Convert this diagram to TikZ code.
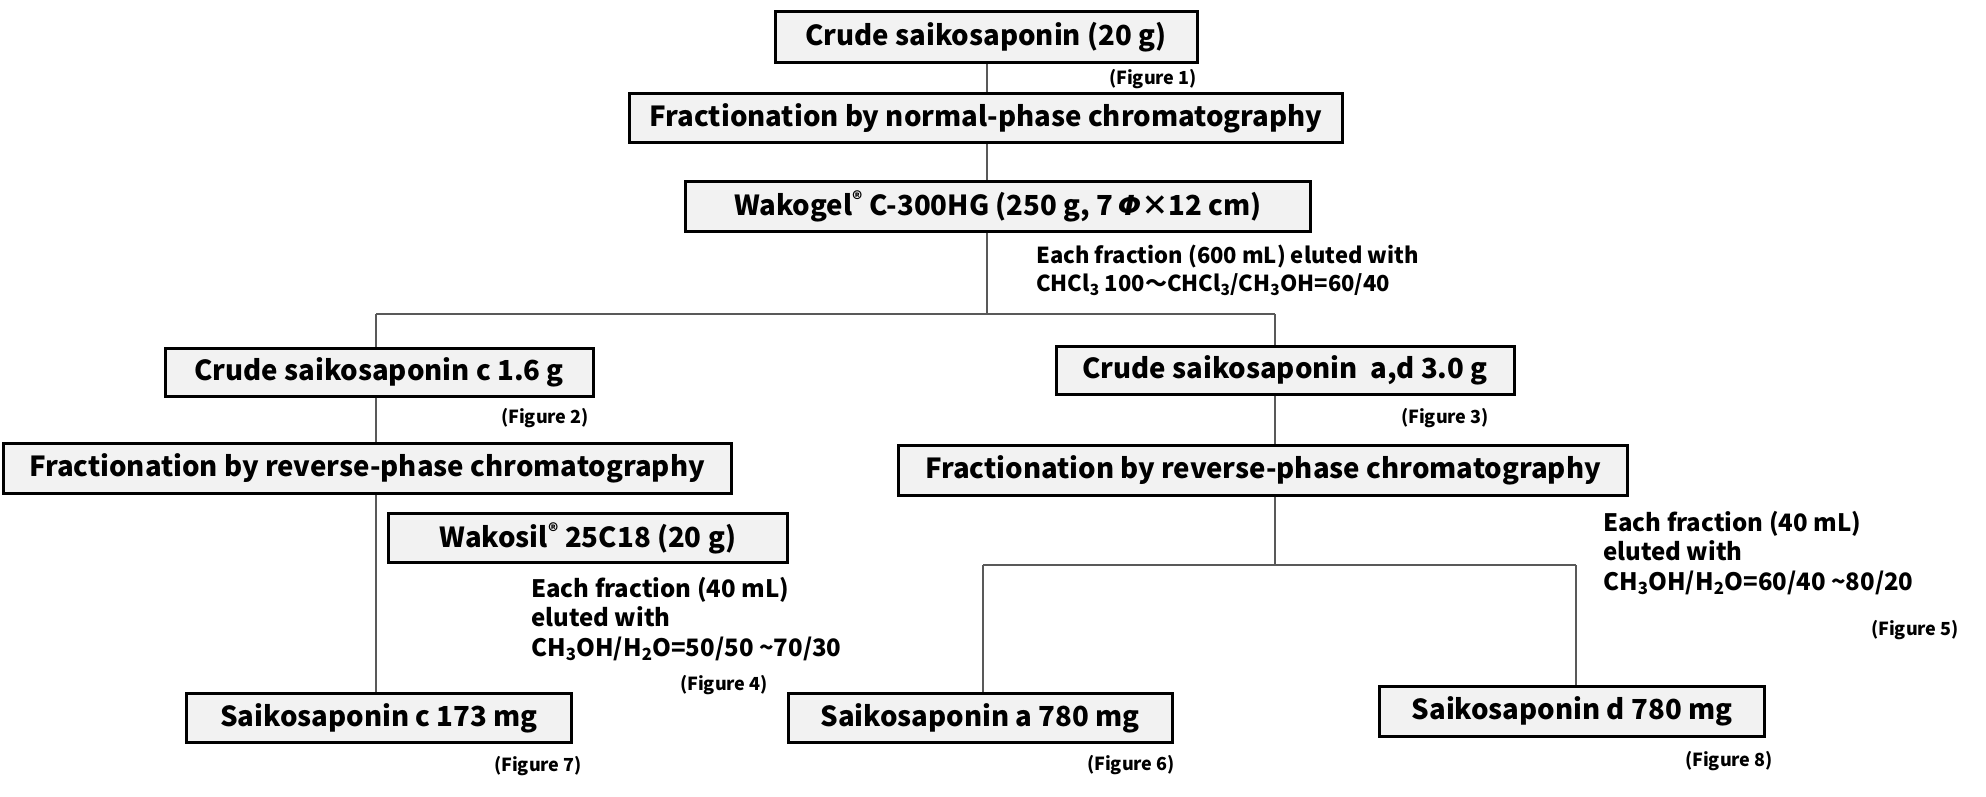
\documentclass[tikz,border=0pt]{standalone}
\usepackage{fontspec}
\setmainfont{Noto Sans CJK JP}
\newfontfamily\phifont{DejaVu Sans}
\definecolor{boxgray}{HTML}{F2F2F2}
\definecolor{linegray}{HTML}{595959}
\newcommand\boxfont{\fontsize{27.6}{32}\selectfont\bfseries}
\newcommand\notefont{\fontsize{24}{29.5}\selectfont\bfseries}
\newcommand\topnotefont{\fontsize{22}{28}\selectfont\bfseries}
\newcommand\figfont{\fontsize{18}{20}\selectfont\bfseries}
\begin{document}
\begin{tikzpicture}[x=1pt,y=-1pt,
  stepbox/.style={draw=black, line width=3pt, fill=boxgray, inner sep=0pt,
    minimum height=49pt, font=\boxfont, text=black},
  note/.style={anchor=west, align=left, inner sep=0pt, font=\notefont},
  figlab/.style={inner sep=0pt, font=\figfont},
  conn/.style={draw=linegray, line width=2pt}]
\useasboundingbox (0,0) rectangle (1986,796);
% boxes
\node[stepbox, minimum width=422pt, minimum height=51pt] (b1) at (986,37) {Crude saikosaponin (20 g)};
\node[stepbox, minimum width=713pt] (b2) at (986,118) {Fractionation by normal-phase chromatography};
\node[stepbox, minimum width=625pt, minimum height=50pt] (b3) at (998,206) {Wakogel\textsuperscript{®} C-300HG (250 g, 7\,{\phifont\bfseries\itshape Φ}×12 cm)};
\node[stepbox, minimum width=428pt, minimum height=48pt] (b4) at (379,372) {Crude saikosaponin c 1.6 g};
\node[stepbox, minimum width=458pt, minimum height=48pt] (b5) at (1285,370) {Crude saikosaponin\ \ a,d 3.0 g};
\node[stepbox, minimum width=728pt, minimum height=50pt] (b6) at (367,468) {Fractionation by reverse-phase chromatography};
\node[stepbox, minimum width=729pt, minimum height=50pt] (b7) at (1263,470) {Fractionation by reverse-phase chromatography};
\node[stepbox, minimum width=399pt] (b8) at (588,538) {Wakosil\textsuperscript{®} 25C18 (20 g)};
\node[stepbox, minimum width=385pt] (b9) at (379,718) {Saikosaponin c 173 mg};
\node[stepbox, minimum width=384pt] (b10) at (980,718) {Saikosaponin a 780 mg};
\node[stepbox, minimum width=385pt, minimum height=50pt] (b11) at (1572,711) {Saikosaponin d 780 mg};
% notes
\node[note, font=\topnotefont] (n1) at (1036,270) {Each fraction (600 mL) eluted with\\CHCl\textsubscript{3} 100～CHCl\textsubscript{3}/CH\textsubscript{3}OH=60/40};
\node[note] (nl) at (531,619) {Each fraction (40 mL)\\eluted with\\CH\textsubscript{3}OH/H\textsubscript{2}O=50/50 \textasciitilde70/30};
\node[note] (nr) at (1603,553) {Each fraction (40 mL)\\eluted with\\CH\textsubscript{3}OH/H\textsubscript{2}O=60/40 \textasciitilde80/20};
% figure labels
\node[figlab] (f1) at (1153,79) {(Figure 1)};
\node[figlab] (f2) at (545,418) {(Figure 2)};
\node[figlab] (f3) at (1445,418) {(Figure 3)};
\node[figlab] (f4) at (724,685) {(Figure 4)};
\node[figlab] (f5) at (1915,630) {(Figure 5)};
\node[figlab] (f6) at (1131,765) {(Figure 6)};
\node[figlab] (f7) at (538,766) {(Figure 7)};
\node[figlab] (f8) at (1729,761) {(Figure 8)};
% junctions
\coordinate (j0) at (987,314);
\coordinate (jl) at (376,314);
\coordinate (jr) at (1275,314);
\coordinate (k0) at (1275,565);
\coordinate (ka) at (983,565);
\coordinate (kd) at (1576,565);
% connectors
\draw[conn] (b1.south -| j0) -- (b2.north -| j0);
\draw[conn] (b2.south -| j0) -- (b3.north -| j0);
\draw[conn] (b3.south -| j0) -- (j0);
\draw[conn] (jl) -- (jr);
\draw[conn] (jl) -- (b4.north -| jl);
\draw[conn] (jr) -- (b5.north -| jr);
\draw[conn] (b4.south -| jl) -- (b6.north -| jl);
\draw[conn] (b6.south -| jl) -- (b9.north -| jl);
\draw[conn] (b5.south -| jr) -- (b7.north -| jr);
\draw[conn] (b7.south -| jr) -- (k0);
\draw[conn] (ka) -- (kd);
\draw[conn] (ka) -- (b10.north -| ka);
\draw[conn] (kd) -- (b11.north -| kd);
\end{tikzpicture}
\end{document}
